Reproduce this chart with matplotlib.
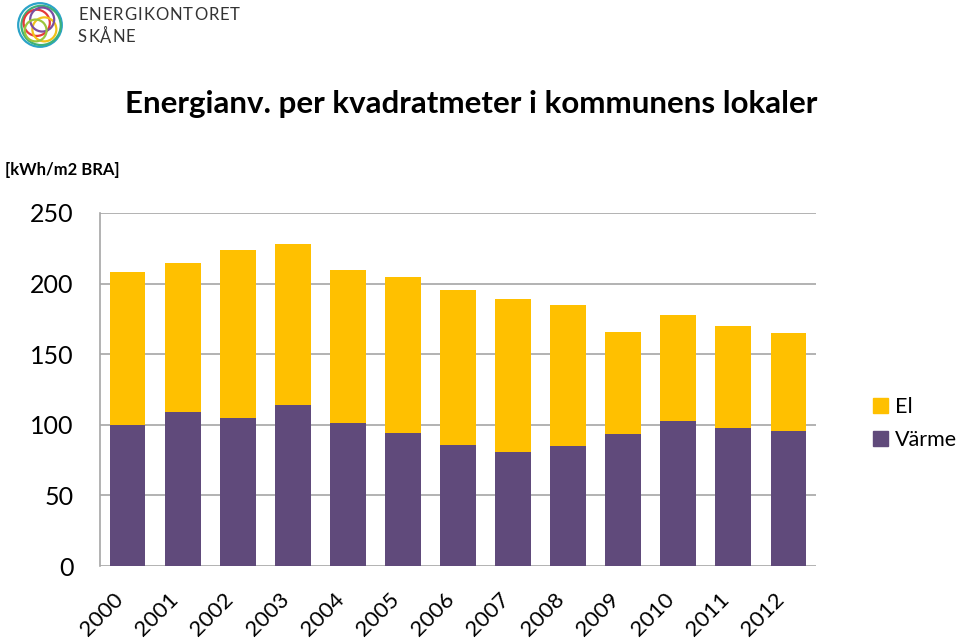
import matplotlib
matplotlib.use("Agg")
import matplotlib.pyplot as plt
from matplotlib.patches import Patch, Circle

years = ["2000", "2001", "2002", "2003", "2004", "2005", "2006",
         "2007", "2008", "2009", "2010", "2011", "2012"]
varme = [100, 109, 105, 114, 101, 94, 86, 81, 85, 93.5, 103, 98, 95.5]
totals = [208, 214.5, 224, 228, 209.5, 204.5, 195.5, 189, 185, 166, 178, 170, 165]
el = [t - v for t, v in zip(totals, varme)]

EL_COLOR = "#FFC000"
VARME_COLOR = "#604A7B"
GRID = "#a6a6a6"

plt.rcParams['font.family'] = ['Lato', 'DejaVu Sans']

fig = plt.figure(figsize=(9.6, 6.42), dpi=100)
ax = fig.add_axes([100 / 960, 76 / 642, 716 / 960, 353 / 642])

x = list(range(len(years)))
ax.bar(x, varme, width=0.65, color=VARME_COLOR, zorder=3)
ax.bar(x, el, width=0.65, bottom=varme, color=EL_COLOR, zorder=3)

ax.set_xlim(-0.5, len(years) - 0.5)
ax.set_ylim(0, 250)
ax.set_yticks([0, 50, 100, 150, 200, 250])
ax.yaxis.grid(True, color=GRID, linewidth=1.2, zorder=0)
for s in ["top", "right", "bottom"]:
    ax.spines[s].set_visible(False)
ax.spines["left"].set_color(GRID)
ax.spines["left"].set_linewidth(1.2)
ax.tick_params(axis="both", length=0)
ax.tick_params(axis="y", pad=19, labelsize=18)
ax.tick_params(axis="x", pad=17, labelsize=16)
ax.set_xticks(x)
ax.set_xticklabels(years, rotation=45, ha="right")

# legend
handles = [Patch(color=EL_COLOR), Patch(color=VARME_COLOR)]
fig.legend(handles, ["El", "Värme"], loc="upper left",
           bbox_to_anchor=(862 / 960, 1 - 386 / 642), frameon=False,
           fontsize=15.5, handlelength=0.7, handleheight=0.7,
           handletextpad=0.35, labelspacing=0.6, borderpad=0)

# titles
fig.text(471 / 960, 1 - 104 / 642, "Energianv. per kvadratmeter i kommunens lokaler",
         ha="center", va="center", fontsize=22.5, fontweight="bold")
fig.text(5 / 960, 1 - 170 / 642, "[kWh/m2 BRA]", ha="left", va="center",
         fontsize=12, fontweight="bold")

# logo
lax = fig.add_axes([14 / 960, 1 - 49 / 642, 52 / 960, 48 / 642])
lax.set_xlim(-1.1, 1.1)
lax.set_ylim(-1.1, 1.1)
lax.set_aspect("equal")
lax.axis("off")
rings = [((0, 0), 1.0, "#2ba3c8"), ((0.05, -0.02), 0.9, "#3db17a"),
         ((-0.15, 0.1), 0.6, "#e53a3a"), ((0.2, -0.2), 0.55, "#f2c21b"),
         ((0.1, 0.25), 0.55, "#7b4fa0"), ((-0.2, -0.25), 0.5, "#9bc53d")]
for c, r, col in rings:
    lax.add_patch(Circle(c, r, fill=False, edgecolor=col, linewidth=1.6))

# letter-spaced logo text, same tracking for both rows
renderer = fig.canvas.get_renderer()
track = None
for row, word in [(15, "ENERGIKONTORET"), (37, "SKÅNE")]:
    letters = [fig.text(0, 1 - row / 642, ch, ha="left", va="center",
                        fontsize=12, color="#333333") for ch in word]
    widths = [t.get_window_extent(renderer).width for t in letters]
    if track is None:
        track = (162 - sum(widths)) / (len(word) - 1)
    xpos = 78
    for t, w in zip(letters, widths):
        t.set_x(xpos / 960)
        xpos += w + track

fig.savefig("out.png", dpi=100)
